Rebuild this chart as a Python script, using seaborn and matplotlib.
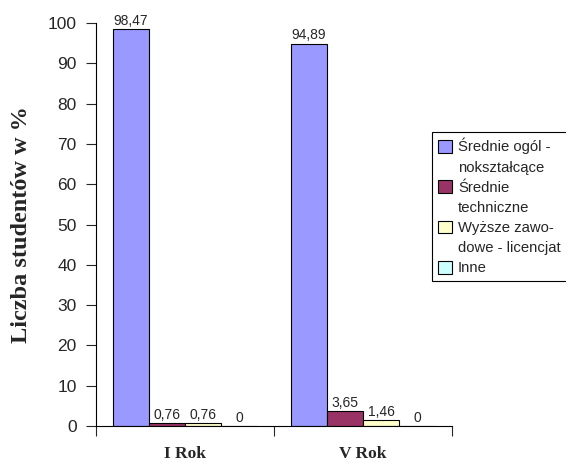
# Wykształcenie studentów I i V roku (słupki w %)
import numpy as np
import pandas as pd
import seaborn as sns
import matplotlib.pyplot as plt
from matplotlib.patches import Patch

# Dane
years = ["I Rok", "V Rok"]
schools = ["Średnie ogól -\nnokształcące", "Średnie\ntechniczne",
           "Wyższe zawo-\ndowe - licencjat", "Inne"]
ogolne = [98.47, 94.89]
techniczne = [0.76, 3.65]
licencjat = [0.76, 1.46]
inne = [0, 0]
colors = ["#9999FF", "#993366", "#FFFFCC", "#CCFFFF"]
yticks = list(range(0, 101, 10))

df = pd.DataFrame({
    "Rok": years * len(schools),
    "Szkoła": np.repeat(schools, len(years)),
    "Procent": ogolne + techniczne + licencjat + inne,
})

sns.set_style("white")
plt.rcParams["font.family"] = ["Liberation Sans", "DejaVu Sans"]

fig = plt.figure(figsize=(5.66, 4.63), dpi=100)
ax = fig.add_axes([0.1696, 0.0799, 0.629, 0.8704])

sns.barplot(data=df, x="Rok", y="Procent", hue="Szkoła", order=years,
            hue_order=schools, palette=colors, saturation=1, width=0.81,
            edgecolor="black", linewidth=0.8, ax=ax)

# etykiety wartości z przecinkiem dziesiętnym
for cont in ax.containers:
    labels = []
    for bar in cont:
        v = bar.get_height()
        labels.append("0" if v == 0 else f"{v:.2f}".replace(".", ","))
    ax.bar_label(cont, labels=labels, padding=1, fontsize=10)

ax.set_ylim(0, 100)
ax.set_xlim(-0.5, 1.5)
ax.set_yticks(yticks)
ax.tick_params(axis="y", direction="out", length=7, width=0.8,
               labelsize=12.5, pad=7, left=True)
ax.set_xticks([-0.5, 0.5, 1.5], minor=True)
ax.tick_params(axis="x", which="minor", direction="out", length=7,
               width=0.8, bottom=True)
ax.tick_params(axis="x", which="major", length=0, pad=14.5)
for lab in ax.get_xticklabels():
    lab.set_fontfamily("Liberation Serif")
    lab.set_fontweight("bold")
    lab.set_fontsize(12.5)

for side in ["top", "right"]:
    ax.spines[side].set_visible(False)
for side in ["left", "bottom"]:
    ax.spines[side].set_color("black")
    ax.spines[side].set_linewidth(0.8)

ax.set_xlabel("")
ax.set_ylabel("Liczba studentów w %", fontfamily="Liberation Serif",
              fontweight="bold", fontsize=17.5)
ax.yaxis.set_label_coords(-0.18, 0.5)

# legenda: kwadrat przy pierwszej linii opisu
ax.legend_.remove()
handles, texts = [], []
for cont, name in zip(ax.containers, schools):
    for i, line in enumerate(name.split("\n")):
        if i == 0:
            handles.append(cont)
        else:
            handles.append(Patch(facecolor="none", edgecolor="none"))
        texts.append(line)
leg = fig.legend(handles, texts, loc="upper left",
                 bbox_to_anchor=(0.763, 0.715), fontsize=10.7,
                 fancybox=False, edgecolor="black", framealpha=1,
                 handlelength=0.95, handleheight=0.95, handletextpad=0.4,
                 labelspacing=0.38, borderpad=0.4, borderaxespad=0)
leg.get_frame().set_linewidth(0.8)

fig.savefig("out.png", dpi=100)
